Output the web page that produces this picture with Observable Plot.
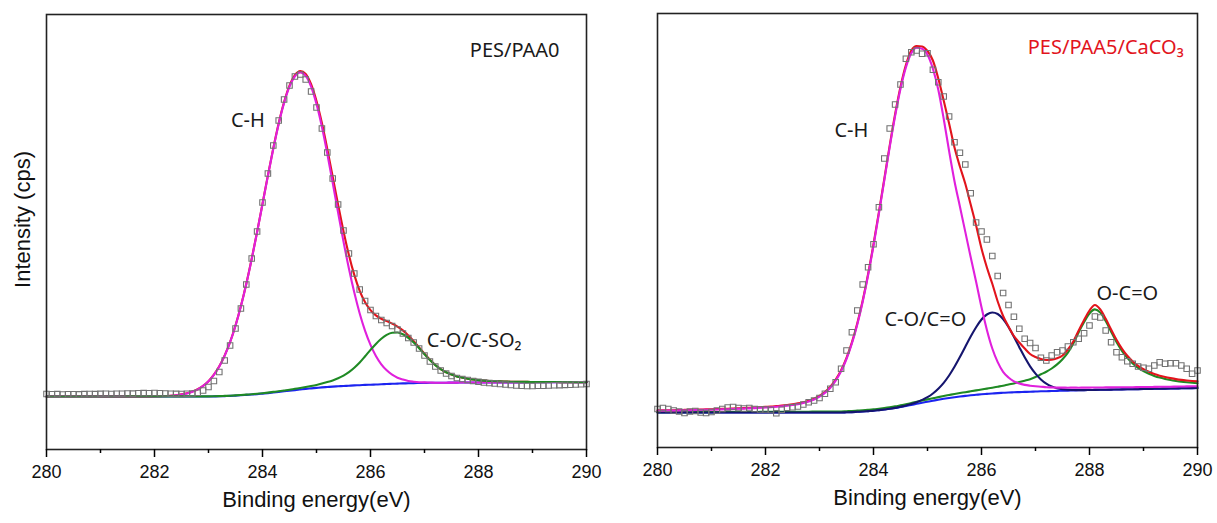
<!DOCTYPE html>
<html>
<head>
<meta charset="utf-8">
<script src="https://cdn.jsdelivr.net/npm/d3@7"></script>
<script src="https://cdn.jsdelivr.net/npm/@observablehq/plot@0.6"></script>
<style>
  body { margin: 0; background: #fff; }
  #wrap { position: relative; width: 1217px; height: 523px; overflow: hidden; background: #fff; }
  #wrap svg { position: absolute; top: 0; }
</style>
</head>
<body>
<div id="wrap"></div>
<script>
// Binding energy grid (eV), 0.1 eV steps as in the measured spectra
const energy = [
280.0,280.1,280.2,280.3,280.4,280.5,280.6,280.7,280.8,280.9,
281.0,281.1,281.2,281.3,281.4,281.5,281.6,281.7,281.8,281.9,
282.0,282.1,282.2,282.3,282.4,282.5,282.6,282.7,282.8,282.9,
283.0,283.1,283.2,283.3,283.4,283.5,283.6,283.7,283.8,283.9,
284.0,284.1,284.2,284.3,284.4,284.5,284.6,284.7,284.8,284.9,
285.0,285.1,285.2,285.3,285.4,285.5,285.6,285.7,285.8,285.9,
286.0,286.1,286.2,286.3,286.4,286.5,286.6,286.7,286.8,286.9,
287.0,287.1,287.2,287.3,287.4,287.5,287.6,287.7,287.8,287.9,
288.0,288.1,288.2,288.3,288.4,288.5,288.6,288.7,288.8,288.9,
289.0,289.1,289.2,289.3,289.4,289.5,289.6,289.7,289.8,289.9,
290.0];

const xTicks = [280, 282, 284, 286, 288, 290];
const xMinorTicks = [281, 283, 285, 287, 289];

// ---------- PES/PAA0 (left panel), intensity in a.u. ----------
const leftBackground = [
53.0,53.0,53.0,53.0,53.0,53.0,53.0,53.0,53.0,53.0,
53.0,53.0,53.0,53.0,53.0,53.0,53.0,53.0,53.0,53.0,
53.0,53.0,53.0,53.0,53.0,53.0,53.0,53.0,53.0,53.0,
53.0,53.1,53.2,53.4,53.6,53.9,54.2,54.6,55.0,55.4,
55.9,56.4,57.0,57.6,58.2,58.8,59.4,60.0,60.6,61.1,
61.6,62.1,62.5,62.9,63.2,63.5,63.8,64.1,64.3,64.6,
64.8,65.0,65.2,65.5,65.7,65.9,66.1,66.2,66.4,66.5,
66.6,66.7,66.7,66.8,66.8,66.9,66.9,67.0,67.0,67.0,
67.0,67.0,67.0,67.1,67.1,67.1,67.1,67.1,67.1,67.2,
67.2,67.2,67.2,67.2,67.2,67.2,67.2,67.2,67.2,67.2,
67.2];
const leftCH = [
0,0,0,0,0,0,0,0,0,0,
0,0,0,0,0,0,0,0,0,0,
0.1,0.3,0.4,0.7,1.2,2.0,3.1,4.8,7.2,10.6,
15.2,21.6,29.8,40.5,53.7,69.9,89.0,110.9,135.4,161.9,
189.5,217.2,243.8,268.0,288.4,304.0,313.7,317.0,313.1,301.8,
283.8,260.5,233.2,203.7,173.7,144.4,117.2,92.8,71.7,54.0,
39.8,28.5,20.0,13.7,9.1,5.9,3.8,2.3,1.4,0.8,
0.5,0.3,0.1,0,0,0,0,0,0,0,
0,0,0,0,0,0,0,0,0,0,
0,0,0,0,0,0,0,0,0,0,
0];
const leftCO = [
0,0,0,0,0,0,0,0,0,0,
0,0,0,0,0,0.1,0.1,0.1,0.1,0.1,
0.1,0.1,0.1,0.1,0.1,0.1,0.1,0.1,0.1,0.1,
0.15,0.15,0.2,0.2,0.2,0.2,0.25,0.25,0.3,0.3,
0.35,0.5,0.6,0.7,0.85,1.0,1.3,1.55,1.9,2.4,
3.0,3.8,4.9,6.2,8.0,10.4,13.6,17.7,22.7,28.6,
34.8,40.6,45.5,49.2,51.1,51.1,49.2,45.5,40.6,34.8,
28.6,22.7,17.7,13.6,10.4,8.0,6.2,4.9,3.8,3.0,
2.4,1.9,1.55,1.27,1.0,0.85,0.7,0.6,0.5,0.4,
0.35,0.3,0.3,0.25,0.25,0.2,0.2,0.2,0.15,0.15,
0.15];
const leftMeasured = [
55.5,55.2,55.4,55.0,55.2,55.3,55.1,55.4,55.5,55.4,
55.6,55.7,55.5,55.8,55.7,56.0,55.9,56.2,56.4,56.3,
56.5,56.2,56.0,55.8,55.6,55.5,55.7,56.0,56.7,59.0,
62.5,68.5,77.5,89.0,104,121,141,165,191,218,
247,276,304,329,350,364,373,375,370,358,
342,321,297,271,245,219,196,176,160,148.5,
139.5,133.5,129.5,126.5,123.5,120,116,111.5,107,101,
94,88,83,79,76,73.5,71.5,70.5,69.5,68.5,
67.7,67,66.5,66,65.5,65,64.5,64,63.7,63.5,
63.5,63.7,63.8,64,64.2,64.4,64.6,64.8,65,65.2,
65.5];

// ---------- PES/PAA5/CaCO3 (right panel), intensity in a.u. ----------
const rightBackground = [
35,35,35,35,35,35,35,35,35,35,
35,35,35,35,35,35,35,35,35,35,
35,35,35,35,35,35,35,35,35,35,
35,35,35,35,35,35.2,35.4,35.7,36.0,36.4,
36.8,37.4,38.0,38.7,39.5,40.5,41.5,42.6,43.7,44.8,
45.8,46.8,47.8,48.7,49.5,50.3,51.0,51.6,52.2,52.7,
53.2,53.6,54.0,54.4,54.7,55.0,55.2,55.4,55.6,55.8,
56.0,56.2,56.3,56.5,56.6,56.8,56.9,57.1,57.2,57.4,
57.5,57.6,57.7,57.8,57.9,58.0,58.1,58.2,58.3,58.4,
58.5,58.6,58.7,58.8,58.9,59.0,59.1,59.2,59.3,59.4,
59.5];
const rightCH = [
1.8,1.9,1.9,2.0,2.1,2.2,2.3,2.5,2.6,2.7,
2.8,3.0,3.1,3.3,3.5,3.7,3.9,4.1,4.4,4.7,
5.0,5.3,5.7,6.2,6.8,7.5,8.3,9.5,11.0,13.0,
15.8,19.6,24.8,31.9,41.2,53.3,68.6,87.3,109.8,135.8,
165.0,196.5,229.2,261.7,291.9,318.2,338.6,351.6,356.0,354,
347,332,310,280,247,216,190,164,138,113,
87,64,45,31,21,15,11,8.5,7,6,
5.2,4.6,4.0,3.6,3.3,3.1,2.9,2.8,2.6,2.5,
2.4,2.4,2.3,2.3,2.2,2.2,2.1,2.1,2.0,2.0,
2.0,1.9,1.9,1.9,1.9,1.8,1.8,1.8,1.8,1.8,
1.8];
const rightCO = [
0,0,0,0,0,0,0,0,0,0,
0,0,0,0,0,0,0,0,0,0,
0,0,0,0,0,0,0,0,0,0,
0,0,0,0,0,0,0,0,0,0,
0,0,0,0,0.15,0.3,0.5,0.9,1.6,2.8,
4.5,7.2,11.0,16.0,22.5,30.4,39.4,49.1,58.8,67.6,
74.8,79.4,81.0,79.1,73.7,65.5,55.5,44.9,34.6,25.4,
17.9,11.9,7.6,4.6,2.7,1.5,0.8,0.4,0.2,0,
0,0,0,0,0,0,0,0,0,0,
0,0,0,0,0,0,0,0,0,0,
0];
const rightOCO = [
0.3,0.3,0.3,0.3,0.35,0.35,0.35,0.35,0.4,0.4,
0.4,0.4,0.45,0.45,0.5,0.5,0.5,0.55,0.55,0.6,
0.6,0.6,0.65,0.65,0.7,0.7,0.75,0.8,0.8,0.85,
0.9,0.9,0.95,1.0,1.0,1.05,1.1,1.15,1.2,1.25,
1.35,1.4,1.45,1.5,1.6,1.7,1.8,1.9,2.0,2.2,
2.3,2.4,2.6,2.8,3.0,3.2,3.45,3.7,4.0,4.4,
4.8,5.3,5.8,6.4,7.1,8.0,8.9,10.0,11.2,12.5,
14.5,17.0,19.5,22.5,26.5,31.5,38.0,47.0,58.0,68.0,
76.5,80.5,77.2,68.6,57.9,47.5,38.6,31.4,25.7,21.3,
17.8,15.1,12.9,11.1,9.7,8.5,7.5,6.6,5.9,5.3,
4.8];
const rightEnvelope = [
37.1,37.2,37.2,37.3,37.5,37.6,37.7,37.9,38.0,38.1,
38.2,38.4,38.6,38.8,39.0,39.2,39.4,39.7,40.0,40.3,
40.6,40.9,41.4,41.9,42.5,43.2,44.1,45.3,46.8,48.9,
51.7,55.5,60.8,67.9,77.2,89.6,105.1,124.2,147.0,173.5,
203.2,235.3,268.7,301.9,333.2,360.7,382.4,397.0,401.5,401.0,
396.5,387,369,347,324,300,281,263.7,243,222,
199,180,163.7,146,131.5,121,111.5,105,99,93.5,
90.5,88.5,87.5,87.7,89.2,92,98,106,117,127.5,
137,142.5,138,128.7,118.1,107.7,98.9,91.7,86.1,81.7,
78.3,75.7,73.5,71.8,70.5,69.4,68.4,67.6,67.0,66.5,
66.1];
const rightMeasured = [
38.5,39.5,38.5,37.0,36.0,34.5,36.0,36.5,35.0,34.5,
35.5,37.0,38.5,40.0,40.5,39.5,39.0,39.5,38.5,38.0,
38.0,37.5,34.3,37.7,39.7,40.3,41.0,43.0,45.3,47.0,
49.5,53.7,58.7,65.3,78.7,97.0,115.3,137.0,163.0,180.3,
203.3,240.3,289.0,319.0,343.0,363.0,388.7,395.3,397.0,393.7,
394.3,377.7,365.3,351.0,331.0,305.3,294.7,283.0,254.3,225.0,
216.0,208.0,191.5,171.5,154.5,142.5,130.7,118.7,108.7,104.5,
99.5,89.7,87.0,92.0,95.3,97.0,101.0,105.3,108.7,114.3,
122.0,131.0,130.0,117.0,105.3,95.3,90.3,86.3,83.7,81.0,
79.7,78.7,82.0,85.3,83.7,84.3,84.3,82.0,78.7,73.7,
77.0];

// Annotations (in data coordinates)
const leftLabels = [
  {e: 288.67, v: 399, t: "PES/PAA0", c: "#1a1a1a"},
  {e: 283.73, v: 328.5, t: "C-H", c: "#1a1a1a"},
  {e: 287.92, v: 108.5, t: "C-O/C-SO\u2082", c: "#1a1a1a"}
];
const rightLabels = [
  {e: 288.30, v: 399.5, t: "PES/PAA5/CaCO\u2083", c: "#e2141c"},
  {e: 283.59, v: 317.3, t: "C-H", c: "#1a1a1a"},
  {e: 284.96, v: 128, t: "C-O/C=O", c: "#1a1a1a"},
  {e: 288.70, v: 153.7, t: "O-C=O", c: "#1a1a1a"}
];

const BLUE = "#1c24f0", RED = "#e2141c", MAGENTA = "#e020dc", GREEN = "#1f8a24", NAVY = "#15156e", SQUARE = "#727272";
const AXISFONT = "'Liberation Sans', Arial, Helvetica, sans-serif";
const LABELFONT = "'Noto Sans', 'Open Sans', sans-serif";

const leftRows = energy.map((e, i) => ({
  e,
  bg: leftBackground[i],
  ch: leftBackground[i] + leftCH[i],
  co: leftBackground[i] + leftCO[i],
  env: leftBackground[i] + leftCH[i] + leftCO[i],
  data: leftMeasured[i]
}));
const rightRows = energy.map((e, i) => ({
  e,
  bg: rightBackground[i],
  ch: rightBackground[i] + rightCH[i],
  co: rightBackground[i] + rightCO[i],
  oco: rightBackground[i] + rightOCO[i],
  env: rightEnvelope[i],
  data: rightMeasured[i]
}));

function commonMarks(labels, withYTitle) {
  const m = [
    Plot.frame({stroke: "#222", strokeWidth: 1.6}),
    Plot.axisX(xTicks, {tickSize: 8, tickPadding: 8, fontSize: 18, fontFamily: AXISFONT, tickFormat: d => String(d), label: null, strokeWidth: 1.5, fill: "#111"}),
    Plot.axisX(xMinorTicks, {tickSize: 4, tickFormat: () => "", label: null, strokeWidth: 1.5}),
    Plot.text(["Binding energy(eV)"], {text: d => d, frameAnchor: "bottom", dy: 57, fontSize: 22, fontFamily: AXISFONT, fill: "#111"}),
    Plot.text(labels, {x: "e", y: "v", text: "t", fill: "c", fontSize: 20, fontFamily: LABELFONT})
  ];
  if (withYTitle) {
    m.push(Plot.text(["Intensity (cps)"], {text: d => d, frameAnchor: "left", textAnchor: "middle", rotate: -90, dx: -23.5, dy: -12.5, fontSize: 22, fontFamily: AXISFONT, fill: "#111"}));
  }
  return m;
}

const lw = 2.1;
const sq = {symbol: "square", r: 3.1, stroke: SQUARE, strokeWidth: 1.1, fill: "none"};
const left = Plot.plot({
  width: 620, height: 523,
  marginLeft: 46, marginRight: 34, marginTop: 14, marginBottom: 74,
  x: {domain: [280, 290], axis: null},
  y: {domain: [0, 435], axis: null},
  style: {fontFamily: AXISFONT, background: "transparent", overflow: "visible"},
  marks: [
    Plot.line(leftRows, {x: "e", y: "bg", stroke: BLUE, strokeWidth: lw, curve: "monotone-x"}),
    Plot.line(leftRows, {x: "e", y: "env", stroke: RED, strokeWidth: lw, curve: "monotone-x"}),
    Plot.line(leftRows, {x: "e", y: "ch", stroke: MAGENTA, strokeWidth: lw, curve: "monotone-x"}),
    Plot.line(leftRows, {x: "e", y: "co", stroke: GREEN, strokeWidth: lw, curve: "monotone-x"}),
    Plot.dot(leftRows, {x: "e", y: "data", ...sq}),
    ...commonMarks(leftLabels, true)
  ]
});
left.style.left = "0px";

const right = Plot.plot({
  width: 597, height: 523,
  marginLeft: 37, marginRight: 20, marginTop: 13, marginBottom: 76,
  x: {domain: [280, 290], axis: null},
  y: {domain: [0, 434], axis: null},
  style: {fontFamily: AXISFONT, background: "transparent", overflow: "visible"},
  marks: [
    Plot.line(rightRows, {x: "e", y: "bg", stroke: BLUE, strokeWidth: lw, curve: "monotone-x"}),
    Plot.line(rightRows, {x: "e", y: "oco", stroke: GREEN, strokeWidth: lw, curve: "monotone-x"}),
    Plot.line(rightRows, {x: "e", y: "co", stroke: NAVY, strokeWidth: lw, curve: "monotone-x"}),
    Plot.line(rightRows, {x: "e", y: "env", stroke: RED, strokeWidth: lw, curve: "monotone-x"}),
    Plot.line(rightRows, {x: "e", y: "ch", stroke: MAGENTA, strokeWidth: lw, curve: "monotone-x"}),
    Plot.dot(rightRows, {x: "e", y: "data", ...sq}),
    ...commonMarks(rightLabels, false)
  ]
});
right.style.left = "620px";

const wrap = document.getElementById("wrap");
wrap.appendChild(left);
wrap.appendChild(right);
</script>
</body>
</html>
